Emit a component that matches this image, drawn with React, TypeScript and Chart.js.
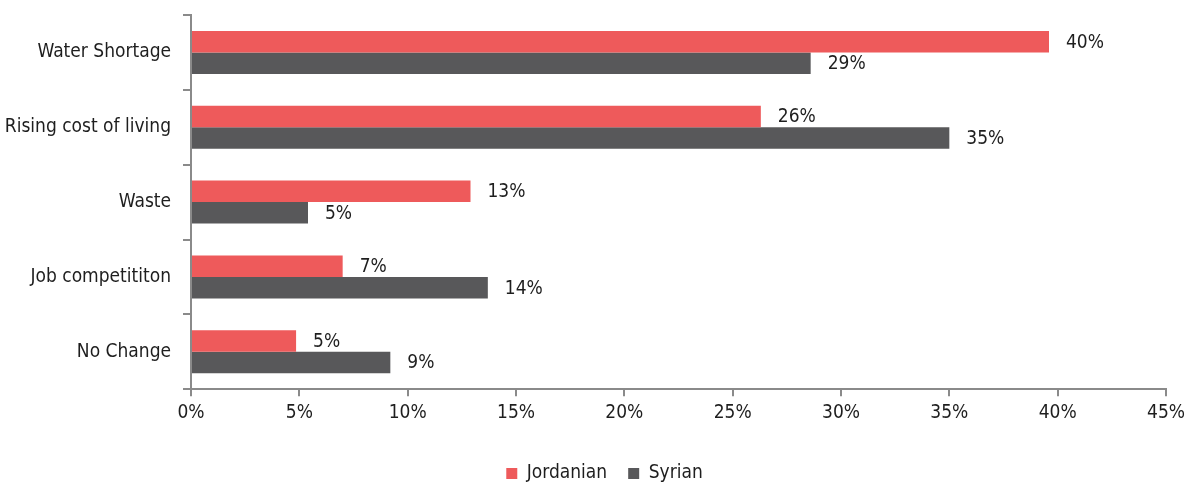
import React, { useEffect, useRef } from "react";
import { Chart, registerables } from "chart.js";

Chart.register(...registerables);

const categories = ["Water Shortage", "Rising cost of living", "Waste", "Job competititon", "No Change"];
const jordanian = [39.6, 26.3, 12.9, 7.0, 4.85];
const syrian = [28.6, 35.0, 5.4, 13.7, 9.2];
const jordanianLabels = ["40%", "26%", "13%", "7%", "5%"];
const syrianLabels = ["29%", "35%", "5%", "14%", "9%"];
const xTicks = [0, 5, 10, 15, 20, 25, 30, 35, 40, 45];

const FONT = "'Liberation Sans Narrow', 'Arial Narrow', 'DejaVu Sans Condensed', sans-serif";
const TEXT = "#1e1e1e";
const AXIS = "#8a8a8a";

const labelPlugin = {
  id: "barValueLabels",
  afterLayout(chart: any) {
    if (chart.legend) {
      chart.legend.left += 12;
      chart.legend.right += 12;
    }
  },
  afterDatasetsDraw(chart: any) {
    const ctx = chart.ctx;
    const labelSets = [jordanianLabels, syrianLabels];
    ctx.save();
    ctx.font = `19px ${FONT}`;
    ctx.fillStyle = TEXT;
    ctx.textAlign = "left";
    ctx.textBaseline = "middle";
    chart.data.datasets.forEach((_: any, di: number) => {
      const meta = chart.getDatasetMeta(di);
      meta.data.forEach((el: any, i: number) => {
        ctx.fillText(labelSets[di][i], el.x + 17, el.y + 1);
      });
    });
    ctx.restore();
  },
};

export default function App() {
  const ref = useRef<HTMLCanvasElement | null>(null);
  useEffect(() => {
    document.body.style.margin = "0";
    const chart = new Chart(ref.current as HTMLCanvasElement, {
      type: "bar",
      data: {
        labels: categories,
        datasets: [
          {
            label: "Jordanian",
            data: jordanian,
            backgroundColor: "#EE5A5B",
            borderWidth: 0,
            categoryPercentage: 0.575,
            barPercentage: 1,
          },
          {
            label: "Syrian",
            data: syrian,
            backgroundColor: "#58585A",
            borderWidth: 0,
            categoryPercentage: 0.575,
            barPercentage: 1,
          },
        ],
      },
      options: {
        indexAxis: "y",
        animation: false,
        responsive: false,
        maintainAspectRatio: false,
        layout: { padding: { left: 0, right: 0, top: 15, bottom: -7 } },
        scales: {
          x: {
            min: 0,
            max: 45,
            afterBuildTicks(scale: any) {
              scale.ticks = xTicks.map((v) => ({ value: v }));
            },
            afterFit(scale: any) {
              scale.height += 14;
              scale.paddingLeft = 0;
              scale.paddingRight = 19;
            },
            ticks: {
              callback: (v: any) => v + "%",
              color: TEXT,
              font: { family: FONT, size: 19 },
              padding: 5,
              maxRotation: 0,
            },
            grid: {
              display: true,
              drawOnChartArea: false,
              drawTicks: true,
              tickLength: 7,
              color: AXIS,
              lineWidth: 2,
            },
            border: { display: true, color: AXIS, width: 2 },
          },
          y: {
            afterFit(scale: any) {
              scale.width = 191;
              scale.paddingTop = 0;
              scale.paddingBottom = 0;
            },
            ticks: {
              color: TEXT,
              font: { family: FONT, size: 19 },
              padding: 12,
            },
            grid: {
              display: true,
              offset: true,
              drawOnChartArea: false,
              drawTicks: true,
              tickLength: 8,
              color: AXIS,
              lineWidth: 2,
            },
            border: { display: true, color: AXIS, width: 2 },
          },
        },
        plugins: {
          legend: {
            position: "bottom",
            labels: {
              boxWidth: 11,
              boxHeight: 11,
              padding: 21,
              color: TEXT,
              font: { family: FONT, size: 19 },
            },
          },
          tooltip: { enabled: false },
        },
      },
      plugins: [labelPlugin],
    } as any);
    return () => chart.destroy();
  }, []);
  return (
    <div style={{ width: 1185, height: 486 }}>
      <canvas ref={ref} width={1185} height={486} style={{ display: "block" }} />
    </div>
  );
}
